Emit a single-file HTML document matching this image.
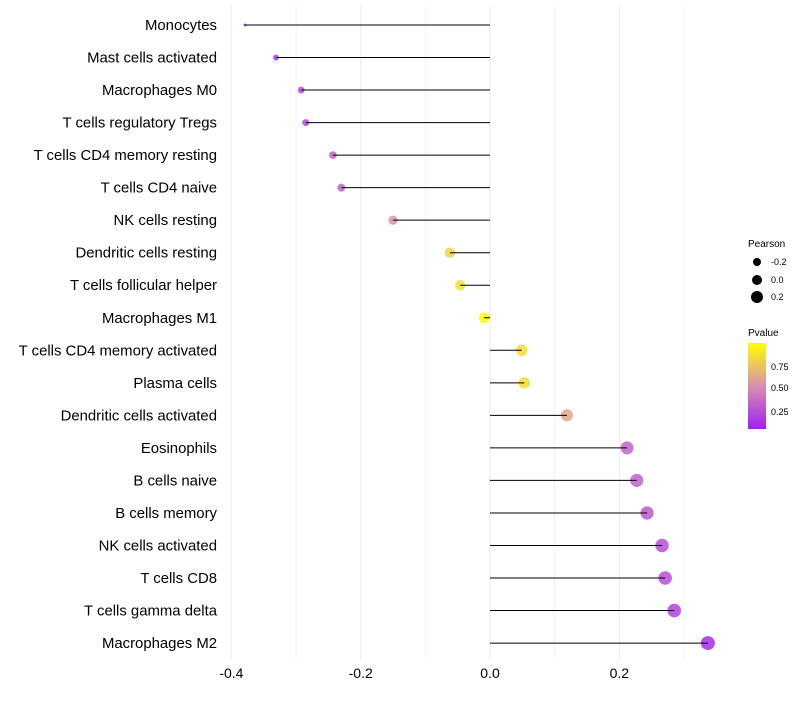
<!DOCTYPE html>
<html><head><meta charset="utf-8"><style>
body{margin:0;background:#fff;font-family:"Liberation Sans",sans-serif}
</style></head><body>
<svg id="c" width="800" height="700" xmlns="http://www.w3.org/2000/svg">
<defs><linearGradient id="g" x1="0" y1="1" x2="0" y2="0">
<stop offset="0" stop-color="#a020f0"/><stop offset="0.5" stop-color="#d890b0"/><stop offset="1" stop-color="#ffff00"/></linearGradient></defs>
<g id="grid"></g><g id="pts"></g><g id="marks"></g><g id="labels"></g>
<g font-size="9" fill="#000">
<text x="748" y="247" font-size="10">Pearson</text>
<circle cx="757" cy="262" r="4"/><text x="771" y="265">-0.2</text>
<circle cx="757" cy="280" r="5"/><text x="771" y="283">0.0</text>
<circle cx="757" cy="297" r="6"/><text x="771" y="300">0.2</text>
</g>
<g font-size="9">
<text x="748" y="336" font-size="10">Pvalue</text>
<rect x="748" y="343" width="18" height="86" fill="url(#g)"/>
<text x="771" y="370">0.75</text><text x="771" y="391">0.50</text><text x="771" y="415">0.25</text>
</g>
</svg>
<script>
const categories=["Monocytes","Mast cells activated","Macrophages M0","T cells regulatory  Tregs","T cells CD4 memory resting","T cells CD4 naive","NK cells resting","Dendritic cells resting","T cells follicular helper","Macrophages M1","T cells CD4 memory activated","Plasma cells","Dendritic cells activated","Eosinophils","B cells naive","B cells memory","NK cells activated","T cells CD8","T cells gamma delta","Macrophages M2"];
const pearson=[-0.379,-0.331,-0.292,-0.285,-0.243,-0.230,-0.150,-0.062,-0.046,-0.009,0.049,0.053,0.119,0.212,0.227,0.243,0.266,0.271,0.285,0.337];
const pvalue=[0.05,0.12,0.18,0.18,0.3,0.3,0.5,0.8,0.85,0.98,0.85,0.85,0.6,0.3,0.28,0.25,0.2,0.2,0.15,0.05];
const xTicks=[-0.4,-0.2,0.0,0.2];
const xTickLabels=["-0.4","-0.2","0.0","0.2"];
const NS="http://www.w3.org/2000/svg";
const xs=v=>490+v*646.5;
const ys=i=>25+i*32.53;
function mk(t,a,p){const e=document.createElementNS(NS,t);for(const k in a)e.setAttribute(k,a[k]);p.appendChild(e);return e;}
function lerp(a,b,t){return a.map((x,i)=>Math.round(x+(b[i]-x)*t));}
function col(p){const s=[[160,32,240],[216,144,176],[255,255,0]];const c=p<0.5?lerp(s[0],s[1],p/0.5):lerp(s[1],s[2],(p-0.5)/0.5);return `rgb(${c})`;}
const pmin=Math.min(...pearson),pmax=Math.max(...pearson);
const rs=v=>1.5+5.5*Math.sqrt((v-pmin)/(pmax-pmin));
const grid=document.getElementById('grid'),marks=document.getElementById('marks'),pts=document.getElementById('pts'),labels=document.getElementById('labels');
for(let v=-0.4;v<=0.31;v+=0.1){const l=mk('line',{x1:xs(v),x2:xs(v),y1:5,y2:660,stroke:'#ebebeb','stroke-width':Math.abs(Math.round(v*10))%2==0?1:0.6},grid);

}
xTicks.forEach((v,i)=>{const t=mk('text',{x:xs(v),y:678,'text-anchor':'middle','font-size':14,fill:'#000'},labels);t.textContent=xTickLabels[i];

});
categories.forEach((c,i)=>{const y=ys(i);
const t=mk('text',{x:217,y:y+5,'text-anchor':'end','font-size':14.9,fill:'#000'},labels);t.textContent=c;


const l=mk('line',{x1:xs(0),x2:xs(pearson[i]),y1:y,y2:y,stroke:'#000','stroke-width':1},marks);


const p=mk('circle',{cx:xs(pearson[i]),cy:y,r:rs(pearson[i]),fill:col(pvalue[i]),'fill-opacity':0.85},pts);

});
</script>
</body></html>
